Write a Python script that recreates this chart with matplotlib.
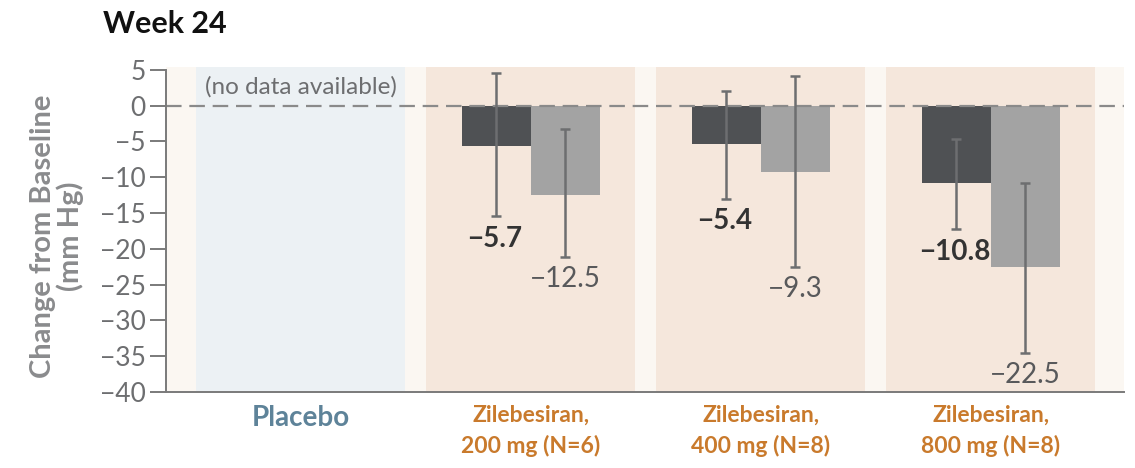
import matplotlib.pyplot as plt
import numpy as np

plt.rcParams['font.family'] = ['Lato', 'DejaVu Sans']

groups = ['Placebo', 'Zilebesiran,\n200 mg (N=6)',
          'Zilebesiran,\n400 mg (N=8)', 'Zilebesiran,\n800 mg (N=8)']
# dark = first series, light = second series; placebo has no data
dark_vals = [np.nan, -5.7, -5.4, -10.8]
dark_lo = [np.nan, -15.4, -13.0, -17.2]
dark_hi = [np.nan, 4.6, 2.0, -4.6]
light_vals = [np.nan, -12.5, -9.3, -22.5]
light_lo = [np.nan, -21.1, -22.5, -34.5]
light_hi = [np.nan, -3.2, 4.1, -10.8]
yticks = [5, 0, -5, -10, -15, -20, -25, -30, -35, -40]

DARK = '#4f5154'
LIGHT = '#a3a3a3'
ERR = '#6d6e70'
ORANGE_BG = '#f5e7dc'
BLUE_BG = '#ecf1f4'
CREAM = '#fbf7f2'

fig = plt.figure(figsize=(11.35, 4.68), dpi=100)
ax = fig.add_axes([166 / 1135, 1 - 392 / 468, 958 / 1135, 325 / 468])

x = np.arange(len(groups))
ax.set_xlim(-0.585, 3.58)
ax.set_ylim(-40, 5.4)

# background panels
ax.axvspan(-0.585, 3.58, color=CREAM, zorder=0, lw=0)
for i in x:
    ax.axvspan(i - 0.455, i + 0.455, color=BLUE_BG if i == 0 else ORANGE_BG,
               zorder=0.5, lw=0)

w = 0.3
dv = np.array(dark_vals)
lv = np.array(light_vals)
ax.bar(x - w / 2, dv, width=w, color=DARK, zorder=2)
ax.bar(x + w / 2, lv, width=w, color=LIGHT, zorder=2)

ax.axhline(0, color='#8a8a8a', lw=1.6, ls=(0, (7, 3.5)), zorder=2.5)

for xs, v, lo, hi in [(x - w / 2, dv, dark_lo, dark_hi),
                      (x + w / 2, lv, light_lo, light_hi)]:
    lo = np.array(lo)
    hi = np.array(hi)
    ax.errorbar(xs, v, yerr=[v - lo, hi - v], fmt='none', ecolor=ERR,
                elinewidth=1.8, capsize=3.5, capthick=1.8, zorder=3)

for i in x[1:]:
    ax.annotate(f'{dark_vals[i]:.1f}'.replace('-', '\u2212'),
                (i - w / 2, dark_lo[i]), xytext=(-1, -7),
                textcoords='offset points', ha='center', va='top',
                fontsize=20, fontweight='bold', color='#333333', zorder=4)
    ax.annotate(f'{light_vals[i]:.1f}'.replace('-', '\u2212'),
                (i + w / 2, light_lo[i]), xytext=(0, -7),
                textcoords='offset points', ha='center', va='top',
                fontsize=20, color='#58595b', zorder=4)

ax.text(0, 2.6, '(no data available)', ha='center', va='center',
        fontsize=17.5, color='#6d6e70')

# axes styling
for s in ['top', 'right']:
    ax.spines[s].set_visible(False)
ax.spines['left'].set_bounds(-40, 5)
ax.spines['left'].set_color('#7a7a7a')
ax.spines['bottom'].set_color('#7a7a7a')
ax.spines['left'].set_linewidth(1.4)
ax.spines['bottom'].set_linewidth(1.4)
ax.set_yticks(yticks)
ax.set_yticklabels([str(t).replace('-', '\u2212') for t in yticks])
ax.tick_params(axis='y', length=11.5, width=1.4, color='#7a7a7a',
               labelsize=19, labelcolor='#6d6e70', pad=3)
ax.set_xticks(x)
ax.set_xticklabels(groups)
ax.tick_params(axis='x', length=0, pad=9)
for i, lab in enumerate(ax.get_xticklabels()):
    lab.set_fontweight('bold')
    lab.set_linespacing(1.5)
    if i == 0:
        lab.set_color('#5e8399')
        lab.set_fontsize(20)
    else:
        lab.set_color('#c97a2c')
        lab.set_fontsize(16.5)

fig.text(57 / 1135, 1 - 236 / 468, 'Change from Baseline\n(mm Hg)',
         rotation=90, ha='center', va='center', multialignment='center',
         fontsize=21, fontweight='bold', color='#8a8b8d', linespacing=1.0)

fig.text(103 / 1135, 1 - 24 / 468, 'Week 24', fontsize=22, fontweight='bold',
         color='#111111', va='center', ha='left')

fig.savefig('out.png', dpi=100)
